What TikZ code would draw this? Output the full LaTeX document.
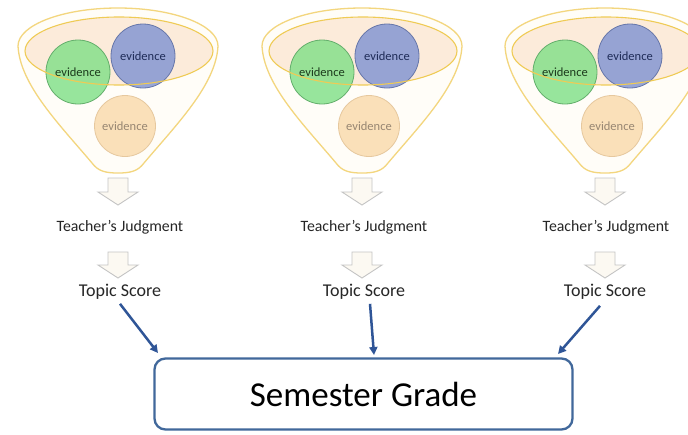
\documentclass[tikz,border=0pt]{standalone}
\usepackage{fontspec}
\setmainfont{Carlito}
\usetikzlibrary{arrows.meta,calc}
\definecolor{funnelline}{HTML}{F3D67E}
\definecolor{funnelfill}{HTML}{FFFDF8}
\definecolor{rimfill}{HTML}{FCEBDA}
\definecolor{rimline}{HTML}{EFCB55}
\definecolor{greenfill}{HTML}{7EDF86}
\definecolor{greenline}{HTML}{63AE6B}
\definecolor{bluefill}{HTML}{8597D2}
\definecolor{blueline}{HTML}{6676A9}
\definecolor{orangefill}{HTML}{FADCAF}
\definecolor{orangeline}{HTML}{E6C89E}
\definecolor{greentext}{HTML}{1C3A1C}
\definecolor{bluetext}{HTML}{1F2C58}
\definecolor{orangetext}{HTML}{978672}
\definecolor{blockline}{HTML}{C4C4C4}
\definecolor{blockfill}{HTML}{FCF9F2}
\definecolor{connblue}{HTML}{2F5597}
\definecolor{boxblue}{HTML}{41689B}
\definecolor{textdark}{HTML}{262626}
\tikzset{
  funnel/.style={draw=funnelline, line width=1.3pt, fill=funnelfill},
  rim/.style={draw=rimline, line width=1.1pt},
  evgreen/.style={circle, minimum size=64pt, inner sep=0pt, draw=greenline, line width=0.8pt, fill=greenfill, fill opacity=0.8, text opacity=1, text=greentext, font=\fontsize{12.5}{14}\selectfont},
  evblue/.style={circle, minimum size=64pt, inner sep=0pt, draw=blueline, line width=0.8pt, fill=bluefill, fill opacity=0.85, text opacity=1, text=bluetext, font=\fontsize{12.5}{14}\selectfont},
  evorange/.style={circle, minimum size=61pt, inner sep=0pt, draw=orangeline, line width=0.8pt, fill=orangefill, fill opacity=0.85, text opacity=1, text=orangetext, font=\fontsize{12.5}{14}\selectfont},
  blockarrow/.style={draw=blockline, line width=0.9pt, fill=blockfill, line join=miter},
  judg/.style={inner sep=1pt, text=textdark, font=\fontsize{15.8}{18}\selectfont},
  topic/.style={inner sep=2pt, text=textdark, font=\fontsize{18}{21}\selectfont},
  gradebox/.style={draw=boxblue, line width=2.3pt, rounded corners=11pt, fill=white, minimum width=418pt, minimum height=71pt, inner sep=0pt, text=black, font=\fontsize{35}{40}\selectfont},
  conn/.style={draw=connblue, line width=2.5pt, -{Triangle[length=8pt,width=8pt]}, shorten >=0pt}
}
\begin{document}
\begin{tikzpicture}[x=1pt,y=1pt]
\useasboundingbox (0,0) rectangle (688,-434);
\fill[white] (0,0) rectangle (688,-434);
\foreach \dx/\n in {0/a,244/b,487/c}{
  \begin{scope}[shift={(\dx,0)}]
    % funnel body
    \path[funnel] (18,-46) arc[start angle=180, end angle=0, x radius=100, y radius=38]
      .. controls (216,-85) and (176,-125) .. (144,-163)
      .. controls (138,-171) and (131,-173) .. (118,-173)
      .. controls (105,-173) and (98,-171) .. (92,-163)
      .. controls (60,-125) and (20,-85) .. (18,-46) -- cycle;
    % rim ellipse fill
    \fill[rimfill] (119,-51) ellipse[x radius=94, y radius=34];
    % evidence circles
    \node[evgreen] (g\n) at (78,-72) {evidence};
    \node[evblue] (b\n) at (143,-56) {evidence};
    \node[evorange] (o\n) at (125,-126) {evidence};
    % rim outline on top
    \draw[rim] (119,-51) ellipse[x radius=94, y radius=34];
    % block arrows
    \path[blockarrow] (108,-178) -- (128,-178) -- (128,-192) -- (138,-192) -- (118,-205) -- (98,-192) -- (108,-192) -- cycle;
    \path[blockarrow] (108,-252) -- (128,-252) -- (128,-265) -- (138,-265) -- (118,-278) -- (98,-265) -- (108,-265) -- cycle;
  \end{scope}
}
\node[judg] (tja) at (120,-227) {Teacher’s Judgment};
\node[judg] (tjb) at (364,-227) {Teacher’s Judgment};
\node[judg] (tjc) at (606,-227) {Teacher’s Judgment};
\node[topic] (tsa) at (120,-292) {Topic Score};
\node[topic] (tsb) at (364,-292) {Topic Score};
\node[topic] (tsc) at (605,-292) {Topic Score};
\node[gradebox] (sg) at (363.5,-394) {Semester Grade};
\coordinate (ea) at (158,-353);
\coordinate (eb) at (374,-355);
\coordinate (ec) at (558,-354);
\draw[conn] ([xshift=0pt,yshift=-2pt]tsa.south) -- (ea);
\draw[conn] ([xshift=6pt,yshift=-2pt]tsb.south) -- (eb);
\draw[conn] ([xshift=-5pt,yshift=-4pt]tsc.south) -- (ec);
\end{tikzpicture}
\end{document}
